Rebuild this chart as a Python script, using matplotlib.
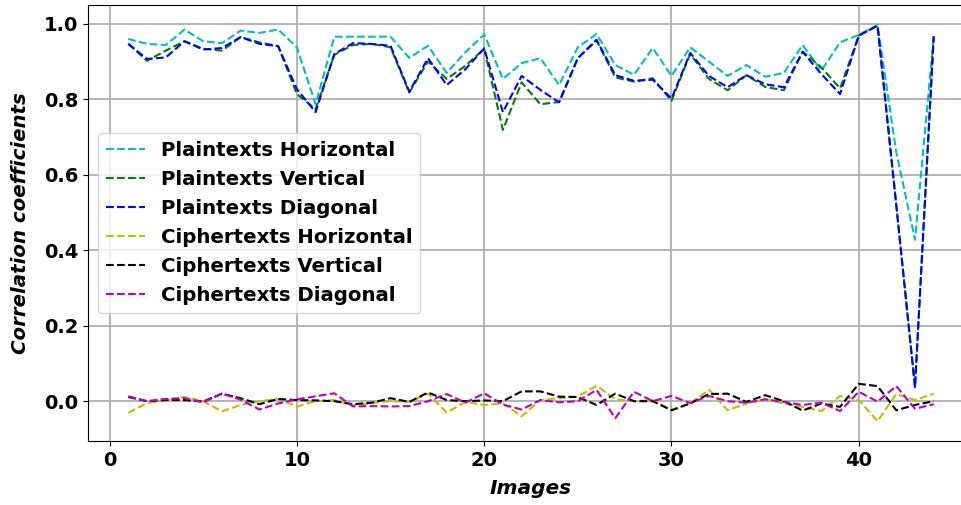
import numpy as np
import matplotlib
matplotlib.use('Agg')
import matplotlib.pyplot as plt

# Correlation coefficients of adjacent pixels for each test image
images = np.arange(1, 45)

plain_h = [0.960, 0.947, 0.944, 0.985, 0.954, 0.949, 0.982, 0.976, 0.985, 0.938,
           0.787, 0.966, 0.966, 0.966, 0.966, 0.910, 0.942, 0.870, 0.925, 0.972,
           0.854, 0.896, 0.909, 0.838, 0.938, 0.973, 0.891, 0.865, 0.936, 0.862,
           0.938, 0.900, 0.862, 0.891, 0.860, 0.870, 0.944, 0.876, 0.951, 0.971,
           0.997, 0.660, 0.428, 0.967]
plain_v = [0.947, 0.902, 0.929, 0.954, 0.934, 0.929, 0.965, 0.951, 0.941, 0.814,
           0.774, 0.918, 0.944, 0.947, 0.938, 0.818, 0.900, 0.854, 0.889, 0.934,
           0.719, 0.845, 0.787, 0.793, 0.909, 0.956, 0.858, 0.847, 0.856, 0.796,
           0.920, 0.854, 0.824, 0.864, 0.833, 0.824, 0.926, 0.885, 0.829, 0.969,
           0.995, 0.520, 0.037, 0.967]
plain_d = [0.947, 0.907, 0.911, 0.954, 0.932, 0.936, 0.965, 0.947, 0.941, 0.827,
           0.766, 0.920, 0.949, 0.947, 0.942, 0.820, 0.909, 0.838, 0.880, 0.935,
           0.766, 0.862, 0.825, 0.792, 0.909, 0.958, 0.864, 0.849, 0.852, 0.802,
           0.923, 0.862, 0.832, 0.864, 0.840, 0.832, 0.926, 0.867, 0.814, 0.969,
           0.995, 0.520, 0.037, 0.967]
cipher_h = [-0.031, -0.005, 0.003, 0.011, 0.000, -0.027, -0.010, 0.000, 0.006, -0.014,
            0.000, 0.003, -0.011, -0.005, 0.000, -0.002, 0.020, -0.030, -0.002, -0.010,
            -0.006, -0.040, 0.003, 0.008, 0.012, 0.041, 0.005, 0.000, 0.003, -0.024,
            -0.005, 0.030, -0.024, -0.006, 0.005, -0.006, -0.015, -0.026, 0.014, 0.003,
            -0.053, 0.019, 0.003, 0.020]
cipher_v = [0.011, 0.000, 0.003, 0.003, -0.001, 0.020, 0.008, -0.008, 0.006, 0.003,
            0.002, 0.000, -0.008, -0.004, 0.008, -0.002, 0.023, 0.003, 0.000, 0.002,
            0.000, 0.026, 0.026, 0.012, 0.011, -0.010, 0.020, 0.000, 0.000, -0.024,
            -0.006, 0.019, 0.020, -0.002, 0.016, 0.000, -0.025, -0.006, -0.015, 0.046,
            0.040, -0.024, -0.010, 0.000]
cipher_d = [0.013, 0.000, 0.006, 0.008, -0.003, 0.020, 0.004, -0.022, -0.006, 0.005,
            0.013, 0.021, -0.014, -0.013, -0.014, -0.013, 0.000, 0.019, -0.004, 0.021,
            -0.009, -0.022, 0.003, -0.003, 0.000, 0.030, -0.045, 0.025, 0.000, 0.014,
            -0.005, 0.014, 0.000, -0.004, 0.005, -0.002, -0.010, -0.004, -0.026, 0.025,
            -0.001, 0.040, -0.020, -0.008]

series = [
    (plain_h, 'c', 'Plaintexts Horizontal'),
    (plain_v, 'g', 'Plaintexts Vertical'),
    (plain_d, 'b', 'Plaintexts Diagonal'),
    (cipher_h, 'y', 'Ciphertexts Horizontal'),
    (cipher_v, 'k', 'Ciphertexts Vertical'),
    (cipher_d, 'm', 'Ciphertexts Diagonal'),
]

fig = plt.figure(figsize=(9.61, 5.05), dpi=100)
ax = fig.add_axes([88/961, 64/505, 886/961, 436/505])

for vals, col, lab in series:
    ax.plot(images, vals, '--', color=col, linewidth=1.5, label=lab)

ax.set_xlim(-1.15, 46.15)
ax.set_ylim(-0.1055, 1.05)
ax.set_yticks([0.0, 0.2, 0.4, 0.6, 0.8, 1.0])
ax.grid(True, color='#b0b0b0', linewidth=1.3)
ax.set_axisbelow(True)

for lbl in ax.get_xticklabels() + ax.get_yticklabels():
    lbl.set_fontweight('bold')
    lbl.set_fontsize(14)

ax.set_xlabel('Images', fontsize=14.5, fontweight='bold', fontstyle='italic', labelpad=7)
ax.set_ylabel('Correlation coefficients', fontsize=14.2, fontweight='bold',
              fontstyle='italic', labelpad=10)

ax.legend(loc='center left', prop={'weight': 'bold', 'size': 14.2}, handlelength=2.0)

fig.savefig('out.png', dpi=100)
